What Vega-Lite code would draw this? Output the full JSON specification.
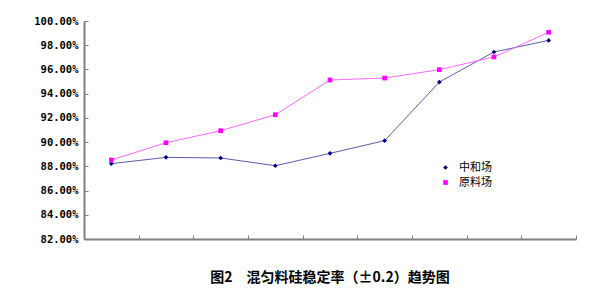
{
  "$schema": "https://vega.github.io/schema/vega-lite/v6.json",
  "autosize": "none",
  "width": 492,
  "height": 218,
  "padding": {"left": 84, "top": 21, "right": 22, "bottom": 54},
  "background": "white",
  "title": {
    "text": "图2　混匀料硅稳定率（±0.2）趋势图",
    "orient": "bottom",
    "anchor": "middle",
    "offset": 26,
    "font": "Noto Sans CJK SC",
    "fontSize": 14,
    "fontWeight": "bold",
    "color": "#000000"
  },
  "data": {
    "values": [
      {"x": 1, "series": "中和场", "v": 0.8822},
      {"x": 2, "series": "中和场", "v": 0.8874},
      {"x": 3, "series": "中和场", "v": 0.8869},
      {"x": 4, "series": "中和场", "v": 0.8805},
      {"x": 5, "series": "中和场", "v": 0.8907},
      {"x": 6, "series": "中和场", "v": 0.9012},
      {"x": 7, "series": "中和场", "v": 0.9496},
      {"x": 8, "series": "中和场", "v": 0.9744},
      {"x": 9, "series": "中和场", "v": 0.9840},
      {"x": 1, "series": "原料场", "v": 0.8852},
      {"x": 2, "series": "原料场", "v": 0.8995},
      {"x": 3, "series": "原料场", "v": 0.9094},
      {"x": 4, "series": "原料场", "v": 0.9226},
      {"x": 5, "series": "原料场", "v": 0.9513},
      {"x": 6, "series": "原料场", "v": 0.9529},
      {"x": 7, "series": "原料场", "v": 0.9598},
      {"x": 8, "series": "原料场", "v": 0.9703},
      {"x": 9, "series": "原料场", "v": 0.9907}
    ]
  },
  "encoding": {
    "x": {
      "field": "x",
      "type": "ordinal",
      "scale": {"paddingInner": 0, "paddingOuter": 0},
      "axis": {
        "title": null,
        "labels": false,
        "tickBand": "extent",
        "tickSize": -4,
        "tickColor": "#808080",
        "domainColor": "#808080",
        "domainWidth": 2,
        "grid": false
      }
    },
    "y": {
      "field": "v",
      "type": "quantitative",
      "scale": {"domain": [0.82, 1.0], "nice": false, "zero": false},
      "axis": {
        "title": null,
        "format": ".2%",
        "values": [0.82, 0.84, 0.86, 0.88, 0.9, 0.92, 0.94, 0.96, 0.98, 1.0],
        "tickSize": -4,
        "tickColor": "#808080",
        "domainColor": "#808080",
        "domainWidth": 2,
        "labelPadding": 10,
        "labelFont": "DejaVu Sans Mono",
        "labelFontSize": 10.5,
        "labelFontWeight": "bold",
        "labelColor": "#000000",
        "grid": false
      }
    }
  },
  "layer": [
    {
      "transform": [{"filter": "datum.series === '中和场'"}],
      "mark": {"type": "line", "strokeWidth": 1, "color": "#5c5cab"}
    },
    {
      "transform": [{"filter": "datum.series === '原料场'"}],
      "mark": {"type": "line", "strokeWidth": 1, "color": "#ff66ff"}
    },
    {
      "mark": {"type": "point", "filled": true, "opacity": 1, "size": 22},
      "encoding": {
        "color": {
          "field": "series",
          "type": "nominal",
          "scale": {"domain": ["中和场", "原料场"], "range": ["#000080", "#ff00ff"]},
          "legend": {
            "title": null,
            "orient": "none",
            "legendX": 347,
            "legendY": 138,
            "padding": 3,
            "rowPadding": 3,
            "symbolOffset": 6,
            "labelOffset": 8,
            "labelFont": "Noto Sans CJK SC",
            "labelFontSize": 11,
            "labelColor": "#000000",
            "symbolSize": 22,
            "encode": {
              "legend": {
                "update": {
                  "stroke": {"value": "#808080"},
                  "strokeWidth": {"value": 1},
                  "fill": {"value": "white"}
                }
              }
            }
          }
        },
        "shape": {
          "field": "series",
          "type": "nominal",
          "scale": {"domain": ["中和场", "原料场"], "range": ["diamond", "square"]}
        }
      }
    }
  ],
  "config": {
    "view": {"stroke": null}
  }
}
